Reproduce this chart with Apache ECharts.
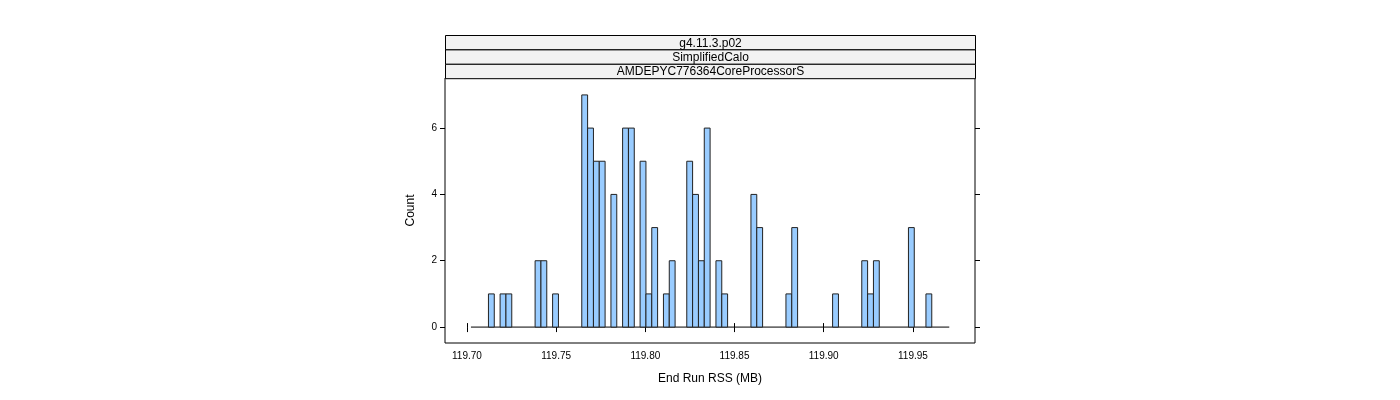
<!DOCTYPE html>
<html><head><meta charset="utf-8">
<script src="https://cdn.jsdelivr.net/npm/echarts@6/dist/echarts.min.js"></script>
<style>html,body{margin:0;background:#fff}#c{width:1400px;height:400px}</style>
</head><body><div id="c"></div>
<script>
// histogram bins
const binStart = 119.70224;
const binWidth = 0.00327;
const counts = [0,0,0,1,0,1,1,0,0,0,0,2,2,0,1,0,0,0,0,7,6,5,5,0,4,0,6,6,0,5,1,3,0,1,2,0,0,5,4,2,6,0,2,1,0,0,0,0,4,3,0,0,0,0,1,3,0,0,0,0,0,0,1,0,0,0,0,2,1,2,0,0,0,0,0,3,0,0,1,0,0,0];
const xTicks = [119.70, 119.75, 119.80, 119.85, 119.90, 119.95];
const strips = ['g4.11.3.p02', 'SimplifiedCalo', 'AMDEPYC776364CoreProcessorS'];

const bins = counts.map((c, i) => [binStart + i * binWidth, binStart + (i + 1) * binWidth, c]);
const binEnd = binStart + counts.length * binWidth;

const chart = echarts.init(document.getElementById('c'));
const font = { fontFamily: 'Liberation Sans, Arial, sans-serif' };
const stripTop = 35, stripH = 14.4;
chart.setOption({
  animation: false,
  grid: { left: 445, right: 425, top: 78, bottom: 57, show: true, borderColor: '#000', borderWidth: 1 },
  xAxis: [
    { type: 'value', min: 119.6877, max: 119.9848, interval: 0.05,
      axisLine: { show: false }, splitLine: { show: false },
      axisTick: { inside: false, length: 5, lineStyle: { color: '#000' }, customValues: xTicks },
      axisLabel: { ...font, fontSize: 10, color: '#000', margin: 8, customValues: xTicks, formatter: v => v.toFixed(2) },
      name: 'End Run RSS (MB)', nameLocation: 'middle', nameGap: 30,
      nameTextStyle: { ...font, fontSize: 12, color: '#000' } },
    { type: 'value', position: 'top', offset: 43, min: 119.6877, max: 119.9848, interval: 0.05,
      axisLine: { show: false }, splitLine: { show: false }, axisLabel: { show: false },
      axisTick: { length: 4, lineStyle: { color: '#000' }, customValues: xTicks } }
  ],
  yAxis: [
    { type: 'value', min: -0.48, max: 7.51, splitLine: { show: false }, axisLine: { show: false },
      axisTick: { length: 5, lineStyle: { color: '#000' }, customValues: [0, 2, 4, 6] },
      axisLabel: { ...font, fontSize: 10, color: '#000', margin: 8, customValues: [0, 2, 4, 6] },
      name: 'Count', nameLocation: 'middle', nameGap: 28, nameRotate: 90,
      nameTextStyle: { ...font, fontSize: 12, color: '#000' } },
    { type: 'value', position: 'right', min: -0.48, max: 7.51, splitLine: { show: false }, axisLine: { show: false },
      axisTick: { length: 5, lineStyle: { color: '#000' }, customValues: [0, 2, 4, 6] },
      axisLabel: { show: false } }
  ],
  graphic: strips.map((s, i) => ({
    type: 'group', left: 445, top: stripTop + i * stripH,
    children: [
      { type: 'rect', shape: { x: 0, y: 0, width: 530, height: stripH },
        style: { fill: '#f2f2f2', stroke: '#000', lineWidth: 1 } },
      { type: 'text', x: 265, y: stripH / 2 + 0.5,
        style: { text: s, align: 'center', verticalAlign: 'middle', fontSize: 12, fill: '#000', ...font } }
    ]
  })),
  series: [
    { type: 'line', data: [[binStart, 0], [binEnd, 0]], symbol: 'none', lineStyle: { color: '#000', width: 1 }, z: 1 },
    { type: 'custom', data: bins, z: 2,
      renderItem: (params, api) => {
        const p0 = api.coord([api.value(0), api.value(2)]);
        const p1 = api.coord([api.value(1), 0]);
        if (api.value(2) === 0) return null;
        return { type: 'rect', shape: { x: p0[0], y: p0[1], width: p1[0] - p0[0], height: p1[1] - p0[1] },
          style: { fill: '#99ccff', stroke: '#222', lineWidth: 1 } };
      } }
  ]
});
</script></body></html>
